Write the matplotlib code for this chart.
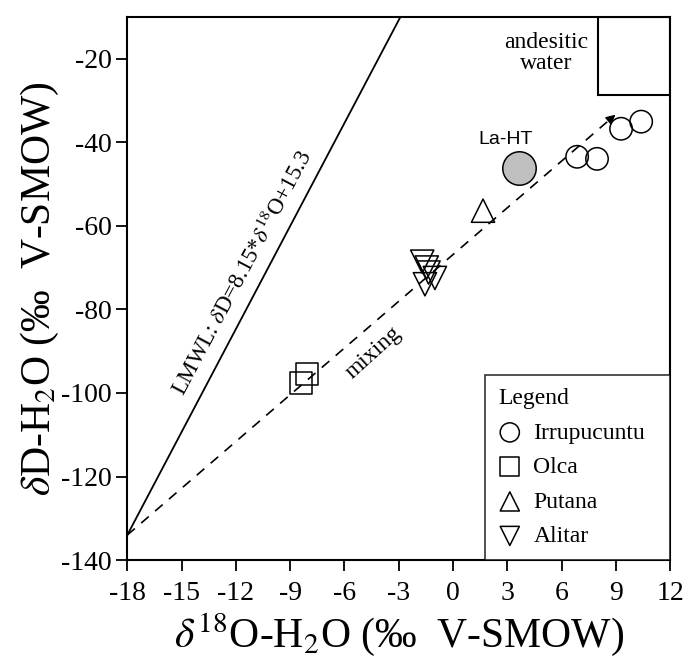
import matplotlib
matplotlib.use('Agg')
import matplotlib.pyplot as plt
from matplotlib.patches import Rectangle

plt.rcParams['font.family'] = ['Liberation Serif', 'DejaVu Serif']
plt.rcParams['mathtext.fontset'] = 'stix'
plt.rcParams['axes.unicode_minus'] = False

# sample data (delta18O, deltaD)
irru_x = [6.86, 7.96, 9.29, 10.4]
irru_y = [-43.5, -44.0, -36.8, -35.1]
olca_x = [-8.07, -8.4]
olca_y = [-95.4, -97.6]
putana_x = [1.66]
putana_y = [-56.4]
alitar_x = [-1.7, -1.45, -1.35, -1.0, -1.55]
alitar_y = [-68.6, -70.0, -71.2, -72.5, -74.0]
laht_x = [3.64]
laht_y = [-46.3]

# lines
lmwl_x = [-18, -2.9]
lmwl_y = [-134, -10]
mix_x = [-18, 9.1]
mix_y = [-134, -33]

# andesitic water box
andes_x = [8, 12]
andes_y = [-28.7, -10]

xticks = [-18, -15, -12, -9, -6, -3, 0, 3, 6, 9, 12]
yticks = [-140, -120, -100, -80, -60, -40, -20]

fig = plt.figure(figsize=(6.88, 6.7), dpi=100)
ax = fig.add_axes([0.185, 0.164, 0.789, 0.811])

ax.plot(lmwl_x, lmwl_y, color='black', lw=1.3)
ax.plot(mix_x[:1] + [mix_x[1] - 0.3], mix_y[:1] + [mix_y[1] - 1.1], color='black', lw=1.2,
        linestyle=(0, (6, 5)))
ax.annotate('', xy=(mix_x[1], mix_y[1]), xytext=(mix_x[1] - 0.6, mix_y[1] - 2.2),
            arrowprops=dict(arrowstyle='-|>', color='black', lw=1, mutation_scale=14))

ax.add_patch(Rectangle((andes_x[0], andes_y[0]), andes_x[1] - andes_x[0], andes_y[1] - andes_y[0],
                       fill=False, edgecolor='black', lw=1.5))

mk = dict(facecolor='none', edgecolors='black', linewidths=1.1)
ax.scatter(irru_x, irru_y, s=260, marker='o', label='Irrupucuntu', **mk)
ax.scatter(olca_x, olca_y, s=260, marker='s', label='Olca', **mk)
ax.scatter(putana_x, putana_y, s=280, marker='^', label='Putana', **mk)
ax.scatter(alitar_x, alitar_y, s=280, marker='v', label='Alitar', **mk)
ax.scatter(laht_x, laht_y, s=580, marker='o', facecolor='#c0c0c0', edgecolors='black', linewidths=1.1)

ax.text(2.93, -39.4, 'La-HT', family='Liberation Sans', fontsize=14, ha='center', va='center')
ax.text(5.15, -18.7, 'andesitic\nwater', fontsize=17, ha='center', va='center', linespacing=1.0)
ax.text(-11.6, -71.3, r'LMWL: $\delta$D=8.15*$\delta^{18}$O+15.3', fontsize=16.5,
        rotation=62, ha='center', va='center')
ax.text(-4.4, -90.4, 'mixing', fontsize=17, rotation=42, ha='center', va='center')

ax.set_xlim(-18, 12)
ax.set_ylim(-140, -10)
ax.set_xticks(xticks)
ax.set_yticks(yticks)
ax.tick_params(direction='out', length=8, width=1.3, labelsize=20, pad=3)
ax.tick_params(axis='x', pad=7)
for sp in ax.spines.values():
    sp.set_linewidth(1.5)

ax.set_xlabel(r'$\delta^{18}$O-H$_2$O (‰  V-SMOW)', fontsize=30, labelpad=4)
ax.set_ylabel(r'$\delta$D-H$_2$O (‰  V-SMOW)', fontsize=30, labelpad=0)

leg = ax.legend(loc='lower left', bbox_to_anchor=(0.659, 0.0, 0.341, 0.3), mode='expand',
                title='Legend', fontsize=17, title_fontsize=17,
                frameon=True, fancybox=False, edgecolor='black', borderaxespad=0,
                handletextpad=0.5, labelspacing=0.55, borderpad=0.55, handlelength=1.0)
leg._legend_box.align = 'left'
leg.get_frame().set_linewidth(1.2)
for h in leg.legend_handles:
    h.set_sizes([190])

fig.savefig('out.png', dpi=100)
